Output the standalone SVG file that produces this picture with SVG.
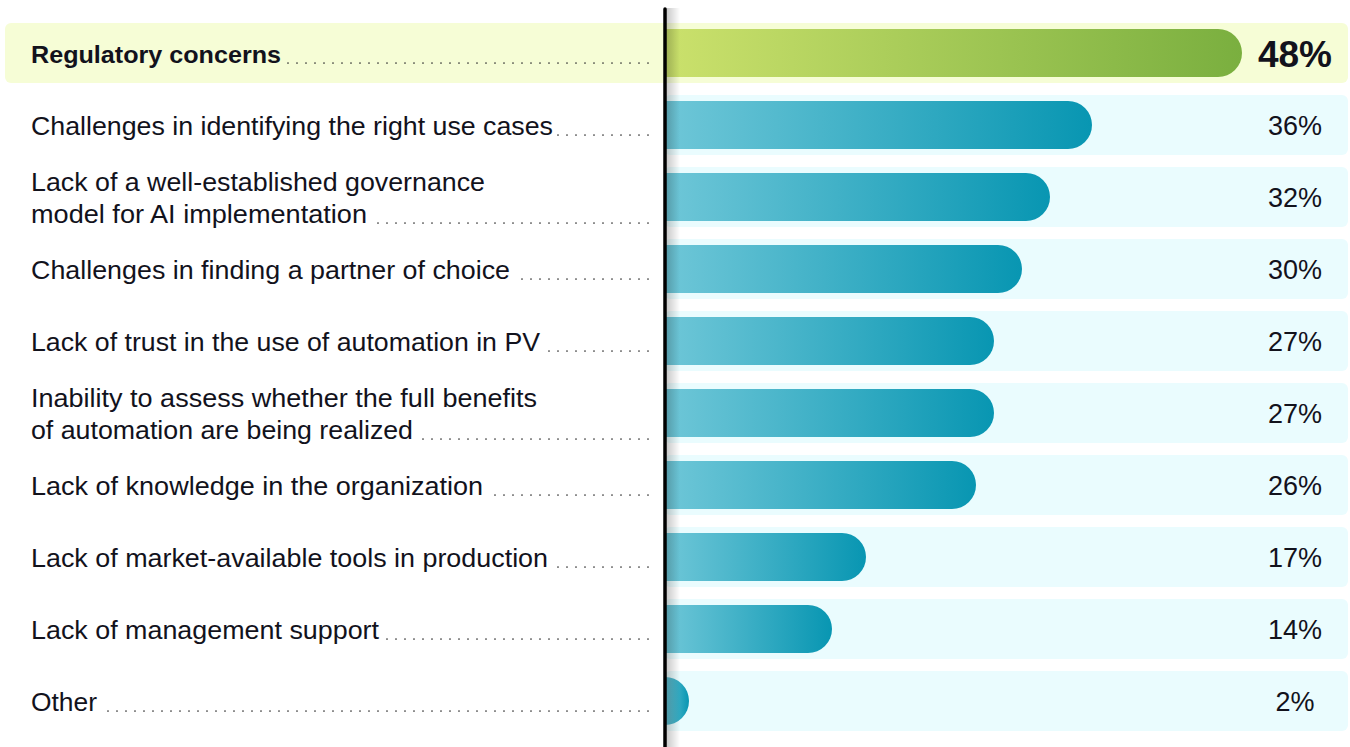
<svg xmlns="http://www.w3.org/2000/svg" width="1350" height="747" viewBox="0 0 1350 747">
<defs>
<linearGradient id="gGreen" x1="0" y1="0" x2="1" y2="0"><stop offset="0" stop-color="#cbe16c"/><stop offset="1" stop-color="#7aaf3f"/></linearGradient>
<linearGradient id="gCyan" x1="0" y1="0" x2="1" y2="0"><stop offset="0" stop-color="#6fc7d8"/><stop offset="1" stop-color="#0896b2"/></linearGradient>
<linearGradient id="gShadow" x1="0" y1="0" x2="1" y2="0"><stop offset="0" stop-color="#000" stop-opacity="0.22"/><stop offset="1" stop-color="#000" stop-opacity="0"/></linearGradient>
<style>
.lbl{font-family:"Liberation Sans",Arial,sans-serif;font-size:25px;fill:#12121c}
.b{font-weight:bold;font-size:24px}
.pct{font-family:"Liberation Sans",Arial,sans-serif;font-size:27px;fill:#12121c;text-anchor:middle}
.big{font-weight:bold;font-size:37px}
.bg{fill:#eafcfe}
.bar{fill:url(#gCyan)}
.dots{stroke:#333;stroke-width:1.7;stroke-linecap:round;stroke-dasharray:0 9;fill:none}
</style>
</defs>
<rect x="5" y="23" width="1343" height="60" rx="6" fill="#f6fdd6"/>
<g id="bgs">
<rect class="bg" x="664" y="95" width="684" height="60" rx="6"/>
<rect class="bg" x="664" y="167" width="684" height="60" rx="6"/>
<rect class="bg" x="664" y="239" width="684" height="60" rx="6"/>
<rect class="bg" x="664" y="311" width="684" height="60" rx="6"/>
<rect class="bg" x="664" y="383" width="684" height="60" rx="6"/>
<rect class="bg" x="664" y="455" width="684" height="60" rx="6"/>
<rect class="bg" x="664" y="527" width="684" height="60" rx="6"/>
<rect class="bg" x="664" y="599" width="684" height="60" rx="6"/>
<rect class="bg" x="664" y="671" width="684" height="60" rx="6"/>
</g>
<g id="row1">
<path d="M664 29 H1218 A24 24 0 0 1 1218 77 H664 Z" fill="url(#gGreen)"/>
<text class="lbl b" x="31" y="63" textLength="250" lengthAdjust="spacingAndGlyphs">Regulatory concerns</text>
<line class="dots" x1="648" y1="63" x2="284" y2="63"/>
<text class="pct big" x="1295" y="67">48%</text>
</g>
<g id="row2">
<path class="bar" d="M664 101 H1068 A24 24 0 0 1 1068 149 H664 Z"/>
<text class="lbl" x="31" y="135" textLength="522" lengthAdjust="spacingAndGlyphs">Challenges in identifying the right use cases</text>
<line class="dots" x1="648" y1="135" x2="557" y2="135"/>
<text class="pct" x="1295" y="135">36%</text>
</g>
<g id="row3">
<path class="bar" d="M664 173 H1026 A24 24 0 0 1 1026 221 H664 Z"/>
<text class="lbl" x="31" y="191" textLength="454" lengthAdjust="spacingAndGlyphs">Lack of a well-established governance</text>
<text class="lbl" x="31" y="223" textLength="336" lengthAdjust="spacingAndGlyphs">model for AI implementation</text>
<line class="dots" x1="648" y1="223" x2="372" y2="223"/>
<text class="pct" x="1295" y="207">32%</text>
</g>
<g id="row4">
<path class="bar" d="M664 245 H998 A24 24 0 0 1 998 293 H664 Z"/>
<text class="lbl" x="31" y="279" textLength="479" lengthAdjust="spacingAndGlyphs">Challenges in finding a partner of choice</text>
<line class="dots" x1="648" y1="279" x2="515" y2="279"/>
<text class="pct" x="1295" y="279">30%</text>
</g>
<g id="row5">
<path class="bar" d="M664 317 H970 A24 24 0 0 1 970 365 H664 Z"/>
<text class="lbl" x="31" y="351" textLength="509" lengthAdjust="spacingAndGlyphs">Lack of trust in the use of automation in PV</text>
<line class="dots" x1="648" y1="351" x2="545" y2="351"/>
<text class="pct" x="1295" y="351">27%</text>
</g>
<g id="row6">
<path class="bar" d="M664 389 H970 A24 24 0 0 1 970 437 H664 Z"/>
<text class="lbl" x="31" y="407" textLength="506" lengthAdjust="spacingAndGlyphs">Inability to assess whether the full benefits</text>
<text class="lbl" x="31" y="439" textLength="382" lengthAdjust="spacingAndGlyphs">of automation are being realized</text>
<line class="dots" x1="648" y1="439" x2="416" y2="439"/>
<text class="pct" x="1295" y="423">27%</text>
</g>
<g id="row7">
<path class="bar" d="M664 461 H952 A24 24 0 0 1 952 509 H664 Z"/>
<text class="lbl" x="31" y="495" textLength="452" lengthAdjust="spacingAndGlyphs">Lack of knowledge in the organization</text>
<line class="dots" x1="648" y1="495" x2="486" y2="495"/>
<text class="pct" x="1295" y="495">26%</text>
</g>
<g id="row8">
<path class="bar" d="M664 533 H842 A24 24 0 0 1 842 581 H664 Z"/>
<text class="lbl" x="31" y="567" textLength="517" lengthAdjust="spacingAndGlyphs">Lack of market-available tools in production</text>
<line class="dots" x1="648" y1="567" x2="554" y2="567"/>
<text class="pct" x="1295" y="567">17%</text>
</g>
<g id="row9">
<path class="bar" d="M664 605 H808 A24 24 0 0 1 808 653 H664 Z"/>
<text class="lbl" x="31" y="639" textLength="348" lengthAdjust="spacingAndGlyphs">Lack of management support</text>
<line class="dots" x1="648" y1="639" x2="384" y2="639"/>
<text class="pct" x="1295" y="639">14%</text>
</g>
<g id="row10">
<path class="bar" d="M664 677 H665 A24 24 0 0 1 665 725 H664 Z"/>
<text class="lbl" x="31" y="711" textLength="66" lengthAdjust="spacingAndGlyphs">Other</text>
<line class="dots" x1="648" y1="711" x2="100" y2="711"/>
<text class="pct" x="1295" y="711">2%</text>
</g>
<g id="axis">
<rect x="666" y="8" width="14" height="739" fill="url(#gShadow)"/>
<line x1="665" y1="9" x2="665" y2="747" stroke="#000" stroke-width="3.5" stroke-linecap="round"/>
</g>
</svg>
